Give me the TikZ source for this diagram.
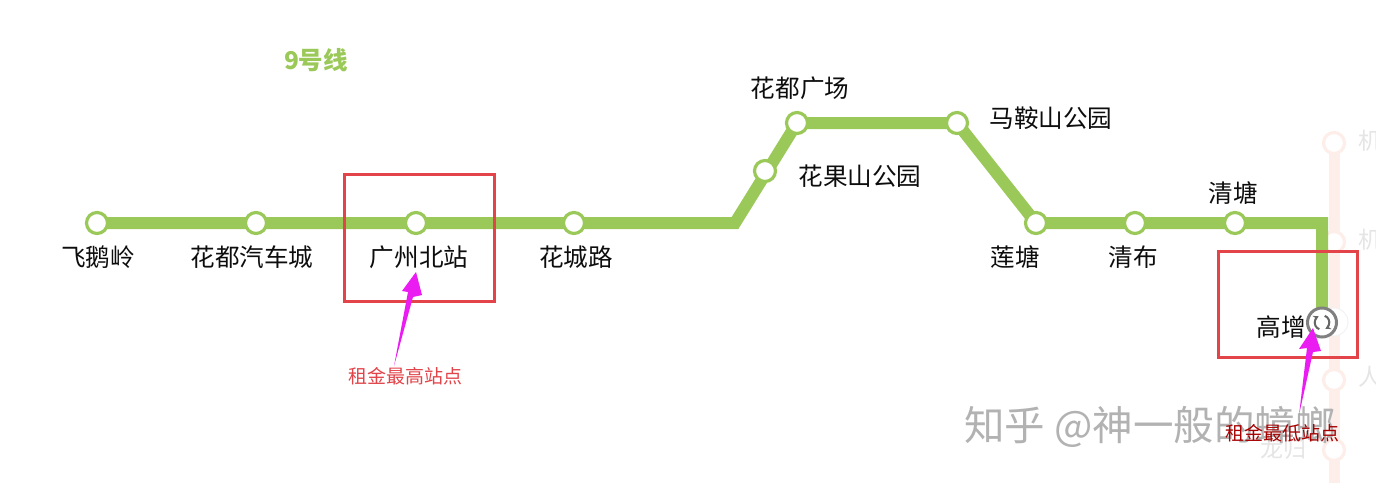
\documentclass[tikz,border=0pt]{standalone}
\usepackage{fontspec}
\setmainfont{Noto Sans CJK SC}
\usetikzlibrary{arrows.meta}
\definecolor{lineg}{HTML}{9BC959}
\definecolor{fadeline}{HTML}{FDEEE9}
\definecolor{boxred}{HTML}{E2444A}
\definecolor{pinkarrow}{HTML}{EA1CF2}
\definecolor{ringgray}{HTML}{808080}
\tikzset{
  x=1pt,y=-1pt,
  stn/.style={circle,draw=lineg,fill=white,line width=3.2pt,minimum size=21pt,inner sep=0pt},
  fadestn/.style={circle,draw=fadeline,fill=white,line width=3.2pt,minimum size=21pt,inner sep=0pt},
  lbl/.style={font=\fontsize{24.6}{26}\selectfont,text=black!95,inner sep=0pt},
  fadelbl/.style={font=\fontsize{23}{24}\selectfont,text=black!10,inner sep=0pt},
  redbox/.style={draw=boxred,line width=3pt,inner sep=0pt},
  pinkfill/.style={fill=pinkarrow,draw=none},
}
\begin{document}
\begin{tikzpicture}
\useasboundingbox (0,0) rectangle (1376,483);
\clip (0,0) rectangle (1376,483);
\fill[white] (0,0) rectangle (1376,483);
% faded crossing line
\coordinate (ftop) at (1334,143);
\coordinate (fbot) at (1334,483);
\draw[fadeline,line width=11pt] (ftop) -- (fbot);
\foreach \n/\yy in {a/143,b/242,c/380,d/450}{
  \node[fadestn] (f\n) at (1334,\yy) {};
}
\node[circle,fill=white,draw=black!5,line width=1pt,minimum size=28pt,inner sep=0pt] (fgz) at (1334,322) {};
\node[fadelbl,anchor=west] (fl1) at (1358,141) {机};
\node[fadelbl,anchor=west] (fl2) at (1358,240) {机};
\node[fadelbl,anchor=west] (fl3) at (1358,377) {人};
\node[fadelbl] (fl4) at (1283,449) {龙归};
% stations
\coordinate (c0) at (97,223);
\coordinate (c1) at (735,223);
\coordinate (c2) at (797,123);
\coordinate (c3) at (957,123);
\coordinate (c4) at (1036,223);
\coordinate (c5) at (1322,223);
\coordinate (c6) at (1322,322);
\draw[lineg,line width=12pt,line join=miter]
  (c0) -- (c1) -- (c2) -- (c3) -- (c4) -- (c5) -- (c6);
\node[stn] (s1) at (97,223) {};
\node[stn] (s2) at (256,223) {};
\node[stn] (s3) at (416,223) {};
\node[stn] (s4) at (574,223) {};
\node[stn] (s5) at (765,171) {};
\node[stn] (s6) at (797,123) {};
\node[stn] (s7) at (957,123) {};
\node[stn] (s8) at (1036,223) {};
\node[stn] (s9) at (1135,223) {};
\node[stn] (s10) at (1235,223) {};
% interchange
\node[circle,draw=ringgray,fill=white,line width=3pt,minimum size=29pt,inner sep=0pt] (gzring) at (1322,322.5) {};
\draw[black!60,line width=2pt,-{Stealth[length=5.5pt,width=6pt]}] (1319.3,329.2) arc[start angle=110,end angle=245,radius=7];
\draw[black!60,line width=2pt,-{Stealth[length=5.5pt,width=6pt]}] (1324.7,315.8) arc[start angle=290,end angle=425,radius=7];
% labels
\node[lbl] (l1) at (98,257) {飞鹅岭};
\node[lbl] (l2) at (252,257) {花都汽车城};
\node[lbl] (l3) at (419,257) {广州北站};
\node[lbl] (l4) at (576,257) {花城路};
\node[lbl] (l5) at (860,176) {花果山公园};
\node[lbl] (l6) at (800,88) {花都广场};
\node[lbl] (l7) at (1051,118) {马鞍山公园};
\node[lbl] (l8) at (1015,257) {莲塘};
\node[lbl] (l9) at (1133,257) {清布};
\node[lbl] (l10) at (1233,193) {清塘};
\node[lbl] (l11) at (1281,327) {高增};
\node[font=\bfseries\fontsize{24.5}{26}\selectfont,text=lineg,inner sep=0pt] (title) at (316,60) {9号线};
% red boxes
\node[redbox,minimum width=150pt,minimum height=127pt] (box1) at (419.5,237.5) {};
\node[redbox,minimum width=139pt,minimum height=106pt] (box2) at (1287.5,304) {};
% watermark
\node[font=\fontsize{40.5}{42}\selectfont,text=black!30,inner sep=0pt,anchor=west] (wm) at (964,427) {知乎 @神一般的蟑螂};
% pink arrows
\coordinate (t1) at (416,272);
\coordinate (t2) at (1313,328);
\coordinate (e1) at (394,366);
\coordinate (e2) at (1299,415);
\fill[pinkfill] (t1) -- (422,295) -- (413,297) -- (e1) -- (408,292) -- (402,291) -- cycle;
\fill[pinkfill] (t2) -- (1321,351) -- (1313,352) -- (e2) -- (1307,348) -- (1299,349) -- cycle;
% captions
\node[font=\fontsize{19}{20}\selectfont,text=boxred,inner sep=0pt] (cap1) at (405,376) {租金最高站点};
\node[font=\fontsize{19}{20}\selectfont,text=red!65!black,inner sep=0pt] (cap2) at (1282,433) {租金最低站点};
\end{tikzpicture}
\end{document}
